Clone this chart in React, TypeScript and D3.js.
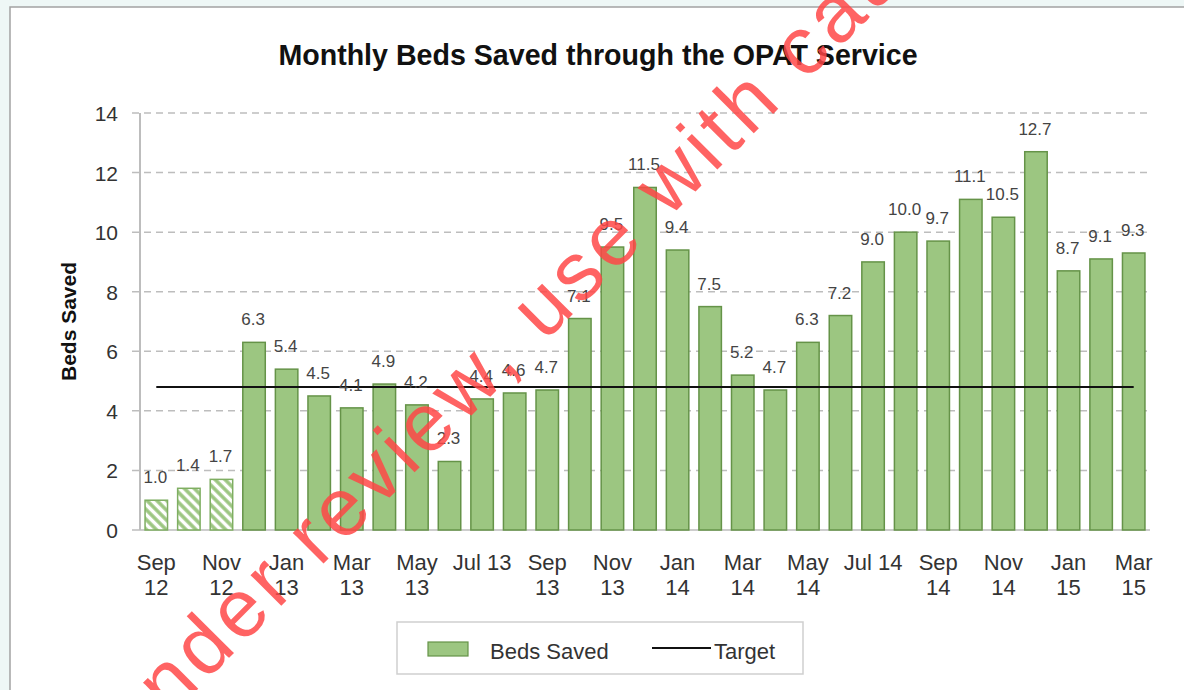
import React from "react";
import { scaleBand, scaleLinear } from "d3";

const months = [
  "Sep 12", "Oct 12", "Nov 12", "Dec 12", "Jan 13", "Feb 13", "Mar 13", "Apr 13",
  "May 13", "Jun 13", "Jul 13", "Aug 13", "Sep 13", "Oct 13", "Nov 13", "Dec 13",
  "Jan 14", "Feb 14", "Mar 14", "Apr 14", "May 14", "Jun 14", "Jul 14", "Aug 14",
  "Sep 14", "Oct 14", "Nov 14", "Dec 14", "Jan 15", "Feb 15", "Mar 15",
];
const bedsSaved = [
  1.0, 1.4, 1.7, 6.3, 5.4, 4.5, 4.1, 4.9, 4.2, 2.3, 4.4, 4.6, 4.7, 7.1, 9.5, 11.5,
  9.4, 7.5, 5.2, 4.7, 6.3, 7.2, 9.0, 10.0, 9.7, 11.1, 10.5, 12.7, 8.7, 9.1, 9.3,
];
// first months drawn hatched (pilot period)
const hatchedMonths = ["Sep 12", "Oct 12", "Nov 12"];
const target = 4.8;
const yTicks = [0, 2, 4, 6, 8, 10, 12, 14];
// x tick labels shown every other month, split into lines
const xTickMonths = [
  "Sep 12", "Nov 12", "Jan 13", "Mar 13", "May 13", "Jul 13", "Sep 13", "Nov 13",
  "Jan 14", "Mar 14", "May 14", "Jul 14", "Sep 14", "Nov 14", "Jan 15", "Mar 15",
];
const xTickLines = [
  ["Sep", "12"], ["Nov", "12"], ["Jan", "13"], ["Mar", "13"], ["May", "13"], ["Jul 13"],
  ["Sep", "13"], ["Nov", "13"], ["Jan", "14"], ["Mar", "14"], ["May", "14"], ["Jul 14"],
  ["Sep", "14"], ["Nov", "14"], ["Jan", "15"], ["Mar", "15"],
];

const width = 1184;
const height = 690;
const font = "'Liberation Sans', Arial, sans-serif";
const green = "#9cc681";
const greenDark = "#659348";

const App = () => {
  const xScale = scaleBand()
    .domain(months)
    .range([140, 1150])
    .paddingInner(0.31)
    .paddingOuter(0.155);

  const yScale = scaleLinear().domain([0, 14]).range([530, 113]);

  const bw = xScale.bandwidth();

  const gridLines = yTicks.map((t) => (
    <g key={t}>
      <line
        x1={132}
        x2={1150}
        y1={yScale(t)}
        y2={yScale(t)}
        stroke="#bdbdbd"
        strokeWidth={1.5}
        strokeDasharray={t === 0 ? "none" : "7,5"}
      />
      <text
        x={118}
        y={yScale(t) + 8}
        textAnchor="end"
        fontSize={21}
        fill="#333"
      >
        {t}
      </text>
    </g>
  ));

  const bars = months.map((m, i) => {
    const v = bedsSaved[i];
    const hatched = hatchedMonths.includes(m);
    return (
      <rect
        key={m}
        x={xScale(m)}
        y={yScale(v)}
        width={bw}
        height={yScale(0) - yScale(v)}
        fill={hatched ? "url(#hatch)" : green}
        stroke={hatched ? "#7fae62" : greenDark}
        strokeWidth={1.5}
      />
    );
  });

  const labels = months.map((m, i) => (
    <text
      key={m}
      x={(xScale(m) as number) + bw / 2 - 1}
      y={yScale(bedsSaved[i]) - 17}
      textAnchor="middle"
      fontSize={17}
      fill="#444"
    >
      {bedsSaved[i].toFixed(1)}
    </text>
  ));

  const xLabels = xTickMonths.map((m, i) => (
    <text
      key={m}
      x={(xScale(m) as number) + bw / 2}
      y={570}
      textAnchor="middle"
      fontSize={22}
      fill="#333"
    >
      {xTickLines[i].map((line, j) => (
        <tspan key={j} x={(xScale(m) as number) + bw / 2} dy={j === 0 ? 0 : 25}>
          {line}
        </tspan>
      ))}
    </text>
  ));

  const first = months[0];
  const last = months[months.length - 1];

  return (
    <svg
      width={width}
      height={height}
      viewBox={`0 0 ${width} ${height}`}
      style={{ position: "absolute", left: 0, top: 0, fontFamily: font }}
    >
      <defs>
        <pattern
          id="hatch"
          patternUnits="userSpaceOnUse"
          width={7}
          height={7}
          patternTransform="rotate(-45)"
        >
          <rect width={7} height={7} fill="#fff" />
          <line x1={2} y1={0} x2={2} y2={7} stroke={green} strokeWidth={3.5} />
        </pattern>
      </defs>

      <rect x={0} y={0} width={width} height={height} fill="#eef7f6" />
      <rect x={10} y={7} width={width} height={height} fill="#fff" stroke="#a3a3a3" strokeWidth={1.5} />

      <text x={598} y={65} textAnchor="middle" fontSize={28.6} fontWeight="bold" fill="#111">
        Monthly Beds Saved through the OPAT Service
      </text>

      {gridLines}
      <line x1={140} x2={140} y1={113} y2={530} stroke="#bdbdbd" strokeWidth={2} />

      <text
        transform={`translate(76, ${yScale(7)}) rotate(-90)`}
        textAnchor="middle"
        fontSize={21}
        fontWeight="bold"
        fill="#111"
      >
        Beds Saved
      </text>

      {bars}
      <line
        x1={(xScale(first) as number) + bw / 2}
        x2={(xScale(last) as number) + bw / 2}
        y1={yScale(target)}
        y2={yScale(target)}
        stroke="#111"
        strokeWidth={2}
      />
      {labels}
      {xLabels}

      <g>
        <rect x={397} y={622} width={406} height={52} fill="#fff" stroke="#cfcfcf" strokeWidth={1.5} />
        <rect x={428} y={642} width={40} height={14} fill={green} stroke={greenDark} strokeWidth={1.2} />
        <text x={490} y={659} fontSize={22} fill="#333">Beds Saved</text>
        <line x1={652} x2={711} y1={648} y2={648} stroke="#111" strokeWidth={2} />
        <text x={714} y={659} fontSize={22} fill="#333">Target</text>
      </g>

      <text
        transform="translate(134, 753) rotate(-45)"
        fontSize={82}
        letterSpacing={5}
        fill="#ff4545"
        fillOpacity={0.84}
      >
        under review, use with caution
      </text>
    </svg>
  );
};

export default App;
